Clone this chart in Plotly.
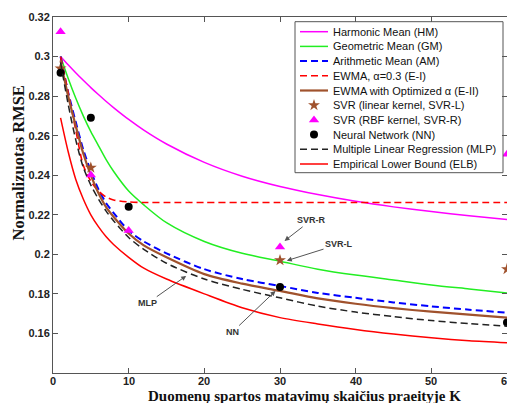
import plotly.graph_objects as go

# ---------------- data ----------------
K = [1, 2, 3, 4, 5, 6, 7, 8, 10, 12, 15, 20, 25, 30, 35, 40, 45, 50, 55, 60]
hm = [0.300, 0.2958, 0.2918, 0.288, 0.2843, 0.2808, 0.2774, 0.2742, 0.2682, 0.2628,
      0.2558, 0.2465, 0.2395, 0.2343, 0.2302, 0.2268, 0.224, 0.2216, 0.2195, 0.2176]
gm = [0.300, 0.289, 0.279, 0.270, 0.262, 0.255, 0.248, 0.242, 0.232, 0.225,
      0.216, 0.2065, 0.2005, 0.1965, 0.1925, 0.1895, 0.187, 0.1845, 0.1825, 0.1805]
am = [0.300, 0.282, 0.267, 0.253, 0.242, 0.233, 0.226, 0.221, 0.212, 0.2065,
      0.2005, 0.1925, 0.1875, 0.184, 0.1805, 0.178, 0.1757, 0.1737, 0.172, 0.1705]
ewma1 = [0.300, 0.282, 0.263, 0.245, 0.237, 0.232, 0.229, 0.2275, 0.2265, 0.2262,
         0.2262, 0.2262, 0.2262, 0.2262, 0.2262, 0.2262, 0.2262, 0.2262, 0.2262, 0.2262]
ewma2 = [0.298, 0.280, 0.265, 0.251, 0.240, 0.231, 0.224, 0.219, 0.2105, 0.2045,
         0.1985, 0.190, 0.1852, 0.1815, 0.1777, 0.175, 0.1728, 0.171, 0.1695, 0.168]
mlp = [0.297, 0.276, 0.258, 0.244, 0.235, 0.228, 0.222, 0.217, 0.2085, 0.2025,
       0.1955, 0.1875, 0.1823, 0.178, 0.1738, 0.1708, 0.1685, 0.1665, 0.165, 0.1637]
elb = [0.269, 0.252, 0.238, 0.228, 0.220, 0.214, 0.209, 0.205, 0.1985, 0.193,
       0.1875, 0.180, 0.173, 0.168, 0.1648, 0.162, 0.1597, 0.1578, 0.1563, 0.1553]

K_pts = [1, 5, 10, 30, 60]
svr_l = [0.294, 0.2438, None, 0.197, 0.1925]
svr_r = [0.3125, 0.2401, 0.2120, 0.2037, 0.2506]
nn = [0.2918, 0.2691, 0.2241, 0.1835, 0.1655]

x_ticks = [0, 10, 20, 30, 40, 50, 60]
x_ticktext = ["0", "10", "20", "30", "40", "50", "60"]
y_ticks = [0.16, 0.18, 0.20, 0.22, 0.24, 0.26, 0.28, 0.30, 0.32]
y_ticktext = ["0.16", "0.18", "0.2", "0.22", "0.24", "0.26", "0.28", "0.3", "0.32"]

labels = ["Harmonic Mean (HM)", "Geometric Mean (GM)", "Arithmetic Mean (AM)",
          "EWMA, α=0.3 (E-I)", "EWMA with Optimized α (E-II)",
          "SVR (linear kernel, SVR-L)", "SVR (RBF kernel, SVR-R)",
          "Neural Network (NN)", "Multiple Linear Regression (MLP)",
          "Empirical Lower Bound (ELB)"]

x_title = "Duomenų spartos matavimų skaičius praeityje K"
y_title = "Normalizuotas RMSE"

# ---------------- styles ----------------
DASH = "7px,4px"
styles = [
    dict(kind="line", y=hm, color="#ff00ff", width=1.5, dash="solid"),
    dict(kind="line", y=gm, color="#22ee22", width=1.5, dash="solid"),
    dict(kind="line", y=am, color="#0000ff", width=2, dash=DASH),
    dict(kind="line", y=ewma1, color="#ff0000", width=1.6, dash=DASH),
    dict(kind="line", y=ewma2, color="#a0522d", width=2.2, dash="solid"),
    dict(kind="marker", y=svr_l, color="#a0522d", symbol="star", size=9),
    dict(kind="marker", y=svr_r, color="#ff00ff", symbol="triangle-up", size=9),
    dict(kind="marker", y=nn, color="#000000", symbol="circle", size=8),
    dict(kind="line", y=mlp, color="#222222", width=1.5, dash=DASH),
    dict(kind="line", y=elb, color="#ff0000", width=1.5, dash="solid"),
]

fig = go.Figure()
for lab, s in zip(labels, styles):
    if s["kind"] == "line":
        fig.add_trace(go.Scatter(x=K, y=s["y"], mode="lines", name=lab,
                                 line=dict(color=s["color"], width=s["width"],
                                           dash=s["dash"], shape="spline", smoothing=0.8),
                                 showlegend=False))
    else:
        fig.add_trace(go.Scatter(x=K_pts, y=s["y"], mode="markers", name=lab,
                                 marker=dict(symbol=s["symbol"], size=s["size"],
                                             color=s["color"], line=dict(width=0)),
                                 showlegend=False))

# ---------------- manual legend (pixel coordinates on overlay axes) ----------------
BX0, BX1, BY0, BY1 = 295, 503, 21.7, 172.7
ROW0, ROWSTEP = 31.7, 14.7
fig.add_trace(go.Scatter(x=[BX0, BX1, BX1, BX0, BX0], y=[BY0, BY0, BY1, BY1, BY0],
                         mode="lines", fill="toself", fillcolor="white",
                         line=dict(color="#555555", width=1),
                         xaxis="x2", yaxis="y2", showlegend=False, hoverinfo="skip"))
annotations = []
for i, (lab, s) in enumerate(zip(labels, styles)):
    ry = ROW0 + ROWSTEP * i
    if s["kind"] == "line":
        fig.add_trace(go.Scatter(x=[300, 328], y=[ry, ry], mode="lines",
                                 line=dict(color=s["color"], width=s["width"], dash=s["dash"]),
                                 xaxis="x2", yaxis="y2", showlegend=False, hoverinfo="skip"))
    else:
        fig.add_trace(go.Scatter(x=[314], y=[ry], mode="markers",
                                 marker=dict(symbol=s["symbol"], size=s["size"],
                                             color=s["color"], line=dict(width=0)),
                                 xaxis="x2", yaxis="y2", showlegend=False, hoverinfo="skip"))
    annotations.append(dict(x=330.5, y=ry, xref="x2", yref="y2", text=lab,
                            showarrow=False, xanchor="left", yanchor="middle",
                            font=dict(family="Arial", size=11, color="#111111")))

# ---------------- arrow annotations ----------------
arrow_notes = [
    ("SVR-R", 30.6, 0.2068, 34.1, 0.2172),
    ("SVR-L", 30.9, 0.1968, 37.8, 0.2051),
    ("MLP", 17.6, 0.1891, 12.5, 0.1753),
    ("NN", 29.4, 0.1815, 23.7, 0.1607),
]
for txt, hx, hy, tx, ty in arrow_notes:
    annotations.append(dict(x=hx, y=hy, ax=tx, ay=ty, xref="x", yref="y",
                            axref="x", ayref="y", text=txt, showarrow=True,
                            arrowhead=2, arrowsize=1, arrowwidth=1,
                            arrowcolor="#555555", standoff=0,
                            font=dict(family="Arial", size=9, color="#333333", weight="bold")))

# x tick labels (placed on the x scale, just below the axis)
for xv, xt in zip(x_ticks, x_ticktext):
    annotations.append(dict(x=xv, y=(373 - 381) / 356, xref="x", yref="paper", text=xt,
                            showarrow=False, xanchor="center", yanchor="middle",
                            font=dict(family="Arial", size=11, color="#222222", weight="bold")))

# axis titles
annotations.append(dict(x=(304 - 53) / 454, y=(373 - 396) / 356, xref="paper", yref="paper",
                        text=x_title, showarrow=False, xanchor="center", yanchor="middle",
                        font=dict(family="Liberation Serif", size=15, color="#111111",
                                  weight="bold")))
annotations.append(dict(x=(17.5 - 53) / 454, y=(373 - 163) / 356, xref="paper", yref="paper",
                        text=y_title, showarrow=False, textangle=-90,
                        xanchor="center", yanchor="middle",
                        font=dict(family="Liberation Serif", size=16.5, color="#111111",
                                  weight="bold")))

axis_common = dict(showgrid=False, zeroline=False, showline=True, linecolor="#555555",
                   linewidth=1, mirror="allticks", ticks="inside", ticklen=5,
                   tickcolor="#555555", tickwidth=1,
                   tickfont=dict(family="Arial", size=11, color="#222222", weight="bold"))

fig.update_layout(
    width=507, height=403,
    margin=dict(l=53, r=0, t=17, b=30),
    paper_bgcolor="white", plot_bgcolor="white",
    showlegend=False,
    xaxis=dict(range=[0, 60], tickvals=x_ticks, showticklabels=False, **axis_common),
    yaxis=dict(range=[0.14, 0.32], tickvals=y_ticks, ticktext=y_ticktext, **axis_common),
    xaxis2=dict(overlaying="x", anchor="y2", range=[53, 507], visible=False, fixedrange=True),
    yaxis2=dict(overlaying="y", anchor="x2", range=[373, 17], visible=False, fixedrange=True),
    annotations=annotations,
)

fig.write_html("out.html")
